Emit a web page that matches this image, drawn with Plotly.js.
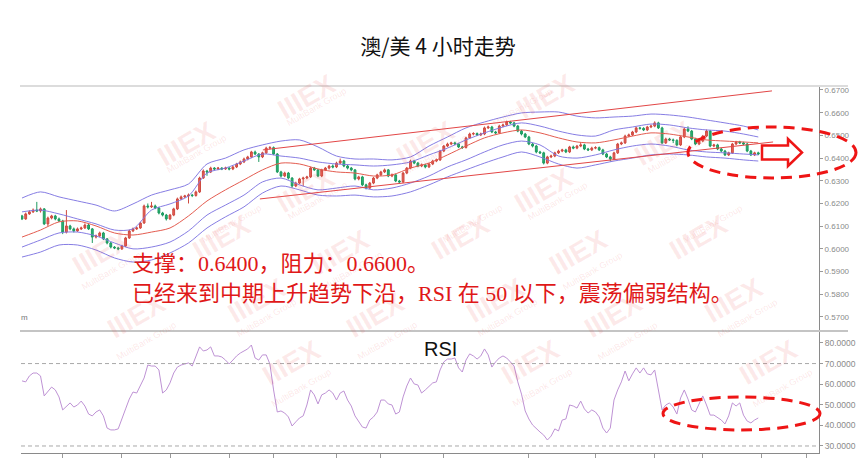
<!DOCTYPE html>
<html><head><meta charset="utf-8">
<script src="https://cdn.plot.ly/plotly-3.0.1.min.js"></script>
<style>html,body{margin:0;padding:0;background:#fff}#chart{width:861px;height:461px}</style>
</head><body><div id="chart"></div>
<script>
// ---------- DATA (4H candles, AUD/USD) ----------
const open = [0.6145,0.6132,0.6154,0.6163,0.6171,0.6167,0.6176,0.6110,0.6136,0.6145,
0.6132,0.6123,0.6074,0.6101,0.6088,0.6079,0.6088,0.6092,0.6105,0.6088,
0.6052,0.6057,0.6070,0.6044,0.6026,0.6008,0.6004,0.6000,0.6013,0.6048,
0.6079,0.6088,0.6092,0.6114,0.6189,0.6185,0.6189,0.6180,0.6158,0.6149,
0.6132,0.6149,0.6176,0.6220,0.6229,0.6233,0.6237,0.6235,0.6251,0.6312,
0.6343,0.6339,0.6356,0.6352,0.6356,0.6352,0.6356,0.6352,0.6361,0.6374,
0.6383,0.6396,0.6405,0.6427,0.6418,0.6405,0.6423,0.6444,0.6446,0.6418,
0.6339,0.6321,0.6334,0.6312,0.6277,0.6290,0.6308,0.6312,0.6317,0.6356,
0.6348,0.6321,0.6348,0.6356,0.6365,0.6361,0.6378,0.6387,0.6365,0.6356,
0.6348,0.6308,0.6317,0.6282,0.6268,0.6290,0.6312,0.6326,0.6339,0.6348,
0.6321,0.6326,0.6299,0.6295,0.6334,0.6356,0.6387,0.6378,0.6365,0.6370,
0.6361,0.6374,0.6387,0.6392,0.6431,0.6453,0.6462,0.6467,0.6462,0.6449,
0.6447,0.6489,0.6506,0.6508,0.6502,0.6506,0.6533,0.6537,0.6515,0.6511,
0.6541,0.6546,0.6559,0.6555,0.6541,0.6519,0.6506,0.6493,0.6462,0.6453,
0.6427,0.6423,0.6378,0.6405,0.6409,0.6423,0.6431,0.6436,0.6427,0.6449,
0.6444,0.6453,0.6458,0.6440,0.6436,0.6444,0.6446,0.6436,0.6418,0.6405,
0.6396,0.6423,0.6462,0.6467,0.6497,0.6502,0.6515,0.6533,0.6531,0.6524,
0.6537,0.6541,0.6555,0.6533,0.6467,0.6484,0.6480,0.6478,0.6458,0.6493,
0.6528,0.6519,0.6484,0.6462,0.6475,0.6497,0.6519,0.6453,0.6458,0.6440,
0.6431,0.6414,0.6423,0.6462,0.6471,0.6467,0.6462,0.6431,0.6414,0.6423];
const high = [0.6150,0.6160,0.6170,0.6178,0.6207,0.6182,0.6180,0.6142,0.6150,0.6150,
0.6138,0.6128,0.6171,0.6106,0.6094,0.6094,0.6098,0.6112,0.6110,0.6092,
0.6063,0.6076,0.6075,0.6048,0.6030,0.6012,0.6009,0.6018,0.6053,0.6085,
0.6094,0.6098,0.6119,0.6195,0.6200,0.6207,0.6195,0.6185,0.6163,0.6154,
0.6154,0.6181,0.6226,0.6235,0.6238,0.6244,0.6242,0.6257,0.6318,0.6350,
0.6348,0.6362,0.6360,0.6361,0.6360,0.6362,0.6360,0.6366,0.6379,0.6389,
0.6402,0.6410,0.6432,0.6433,0.6422,0.6428,0.6450,0.6453,0.6451,0.6422,
0.6344,0.6340,0.6339,0.6316,0.6296,0.6313,0.6318,0.6322,0.6362,0.6361,
0.6352,0.6353,0.6361,0.6370,0.6372,0.6384,0.6398,0.6392,0.6370,0.6361,
0.6352,0.6322,0.6322,0.6287,0.6295,0.6317,0.6331,0.6344,0.6354,0.6352,
0.6332,0.6331,0.6304,0.6339,0.6361,0.6393,0.6392,0.6383,0.6376,0.6375,
0.6379,0.6392,0.6398,0.6436,0.6458,0.6468,0.6472,0.6472,0.6467,0.6454,
0.6494,0.6512,0.6514,0.6513,0.6512,0.6539,0.6543,0.6542,0.6520,0.6547,
0.6552,0.6565,0.6564,0.6560,0.6546,0.6524,0.6511,0.6498,0.6467,0.6458,
0.6432,0.6428,0.6410,0.6415,0.6428,0.6437,0.6441,0.6441,0.6454,0.6455,
0.6458,0.6470,0.6463,0.6445,0.6450,0.6452,0.6451,0.6441,0.6423,0.6410,
0.6428,0.6467,0.6473,0.6503,0.6508,0.6520,0.6539,0.6538,0.6536,0.6542,
0.6547,0.6562,0.6560,0.6538,0.6490,0.6489,0.6486,0.6483,0.6498,0.6535,
0.6540,0.6524,0.6489,0.6480,0.6502,0.6526,0.6524,0.6463,0.6463,0.6445,
0.6436,0.6428,0.6467,0.6476,0.6476,0.6472,0.6467,0.6436,0.6428,0.6428];
const low = [0.6127,0.6128,0.6150,0.6158,0.6162,0.6160,0.6105,0.6100,0.6130,0.6126,
0.6118,0.6065,0.6068,0.6082,0.6072,0.6075,0.6083,0.6088,0.6083,0.6026,
0.6046,0.6052,0.6039,0.6020,0.6002,0.5999,0.5994,0.5995,0.6008,0.6044,
0.6074,0.6083,0.6088,0.6110,0.6178,0.6180,0.6175,0.6152,0.6143,0.6125,
0.6127,0.6144,0.6171,0.6215,0.6224,0.6200,0.6228,0.6230,0.6246,0.6308,
0.6322,0.6334,0.6346,0.6347,0.6347,0.6348,0.6346,0.6347,0.6356,0.6369,
0.6378,0.6390,0.6400,0.6413,0.6383,0.6400,0.6418,0.6438,0.6413,0.6334,
0.6315,0.6316,0.6306,0.6270,0.6272,0.6285,0.6275,0.6307,0.6312,0.6343,
0.6316,0.6316,0.6343,0.6350,0.6355,0.6356,0.6373,0.6360,0.6350,0.6342,
0.6302,0.6302,0.6276,0.6262,0.6263,0.6285,0.6307,0.6321,0.6334,0.6316,
0.6316,0.6294,0.6288,0.6290,0.6329,0.6351,0.6373,0.6360,0.6360,0.6355,
0.6356,0.6369,0.6382,0.6387,0.6426,0.6448,0.6457,0.6457,0.6444,0.6440,
0.6442,0.6484,0.6500,0.6497,0.6497,0.6501,0.6528,0.6510,0.6506,0.6506,
0.6536,0.6541,0.6549,0.6536,0.6514,0.6500,0.6488,0.6457,0.6447,0.6421,
0.6418,0.6372,0.6373,0.6400,0.6404,0.6418,0.6426,0.6422,0.6422,0.6439,
0.6439,0.6448,0.6435,0.6431,0.6431,0.6439,0.6431,0.6413,0.6400,0.6385,
0.6391,0.6418,0.6457,0.6462,0.6492,0.6497,0.6510,0.6525,0.6519,0.6519,
0.6532,0.6536,0.6528,0.6462,0.6462,0.6475,0.6466,0.6452,0.6453,0.6488,
0.6514,0.6479,0.6457,0.6457,0.6470,0.6492,0.6448,0.6448,0.6435,0.6426,
0.6409,0.6409,0.6418,0.6457,0.6462,0.6457,0.6426,0.6409,0.6409,0.6413];
const close = [0.6132,0.6154,0.6163,0.6171,0.6167,0.6176,0.6110,0.6136,0.6145,0.6132,
0.6123,0.6074,0.6101,0.6088,0.6079,0.6088,0.6092,0.6105,0.6088,0.6052,
0.6057,0.6070,0.6044,0.6026,0.6008,0.6004,0.6000,0.6013,0.6048,0.6079,
0.6088,0.6092,0.6114,0.6189,0.6185,0.6189,0.6180,0.6158,0.6149,0.6132,
0.6149,0.6176,0.6220,0.6229,0.6233,0.6237,0.6235,0.6251,0.6312,0.6343,
0.6339,0.6356,0.6352,0.6356,0.6352,0.6356,0.6352,0.6361,0.6374,0.6383,
0.6396,0.6405,0.6427,0.6418,0.6405,0.6423,0.6444,0.6446,0.6418,0.6339,
0.6321,0.6334,0.6312,0.6277,0.6290,0.6308,0.6312,0.6317,0.6356,0.6348,
0.6321,0.6348,0.6356,0.6365,0.6361,0.6378,0.6387,0.6365,0.6356,0.6348,
0.6308,0.6317,0.6282,0.6268,0.6290,0.6312,0.6326,0.6339,0.6348,0.6321,
0.6326,0.6299,0.6295,0.6334,0.6356,0.6387,0.6378,0.6365,0.6370,0.6361,
0.6374,0.6387,0.6392,0.6431,0.6453,0.6462,0.6467,0.6462,0.6449,0.6447,
0.6489,0.6506,0.6508,0.6502,0.6506,0.6533,0.6537,0.6515,0.6511,0.6541,
0.6546,0.6559,0.6555,0.6541,0.6519,0.6506,0.6493,0.6462,0.6453,0.6427,
0.6423,0.6378,0.6405,0.6409,0.6423,0.6431,0.6436,0.6427,0.6449,0.6444,
0.6453,0.6458,0.6440,0.6436,0.6444,0.6446,0.6436,0.6418,0.6405,0.6396,
0.6423,0.6462,0.6467,0.6497,0.6502,0.6515,0.6533,0.6531,0.6524,0.6537,
0.6541,0.6555,0.6533,0.6467,0.6484,0.6480,0.6478,0.6458,0.6493,0.6528,
0.6519,0.6484,0.6462,0.6475,0.6497,0.6519,0.6453,0.6458,0.6440,0.6431,
0.6414,0.6423,0.6462,0.6471,0.6467,0.6462,0.6431,0.6414,0.6423,0.6418];

// Bollinger-style envelopes, read every 5 candles
const bandIdx = [0,5,10,15,20,25,30,35,40,45,50,55,60,65,70,75,80,85,90,95,100,105,110,115,120,125,130,135,140,145,150,155,160,165,170,175,180,185,190,195,199];
const bbOuterUp = [0.6224,0.6251,0.6229,0.6211,0.6193,0.6167,0.6198,0.6237,0.6260,0.6286,0.6374,0.6400,0.6436,0.6458,0.6475,0.6480,0.6449,0.6409,0.6396,0.6396,0.6392,0.6405,0.6453,0.6493,0.6533,0.6559,0.6581,0.6599,0.6603,0.6603,0.6585,0.6577,0.6581,0.6585,0.6594,0.6590,0.6581,0.6568,0.6555,0.6541,0.6524];
const bbInnerUp = [0.6163,0.6171,0.6154,0.6132,0.6110,0.6083,0.6088,0.6171,0.6198,0.6233,0.6334,0.6356,0.6387,0.6418,0.6409,0.6400,0.6383,0.6374,0.6370,0.6365,0.6370,0.6383,0.6414,0.6444,0.6480,0.6511,0.6537,0.6555,0.6541,0.6519,0.6502,0.6497,0.6524,0.6537,0.6550,0.6546,0.6533,0.6524,0.6519,0.6506,0.6493];
const bbMid = [0.6052,0.6083,0.6119,0.6123,0.6101,0.6070,0.6061,0.6074,0.6092,0.6145,0.6211,0.6260,0.6304,0.6348,0.6378,0.6374,0.6352,0.6339,0.6334,0.6321,0.6326,0.6356,0.6378,0.6414,0.6453,0.6489,0.6511,0.6524,0.6511,0.6489,0.6471,0.6467,0.6480,0.6497,0.6511,0.6506,0.6493,0.6480,0.6475,0.6471,0.6467];
const bbInnerLow = [0.6008,0.6039,0.6070,0.6074,0.6057,0.6026,0.6000,0.6008,0.6030,0.6079,0.6149,0.6193,0.6237,0.6295,0.6312,0.6282,0.6260,0.6268,0.6277,0.6260,0.6268,0.6290,0.6321,0.6361,0.6392,0.6427,0.6458,0.6475,0.6458,0.6409,0.6400,0.6414,0.6436,0.6453,0.6462,0.6453,0.6436,0.6427,0.6423,0.6418,0.6414];
const bbOuterLow = [0.5964,0.5986,0.6017,0.6017,0.5995,0.5960,0.5942,0.5951,0.5982,0.6026,0.6092,0.6141,0.6185,0.6246,0.6277,0.6260,0.6237,0.6233,0.6237,0.6229,0.6233,0.6251,0.6282,0.6317,0.6348,0.6378,0.6405,0.6427,0.6405,0.6374,0.6356,0.6370,0.6387,0.6400,0.6414,0.6418,0.6414,0.6405,0.6400,0.6392,0.6387];

// trend channel (candle index, price)
const channelUpIdx = [65.1, 202.7], channelUpPx = [0.6436, 0.6696];
const channelLoIdx = [64.3, 203.0], channelLoPx = [0.6220, 0.6471];

// RSI per candle
const rsi = [61.6,61.1,64.0,65.4,65.4,64.0,54.3,56.7,58.6,57.2,
53.8,47.5,49.4,50.9,48.9,49.9,51.8,49.4,45.5,44.6,
46.5,47.5,44.6,38.7,37.8,37.8,38.3,43.6,48.0,52.8,
56.2,55.7,59.6,63.0,69.3,68.8,68.8,66.9,55.7,57.2,
60.6,65.4,68.3,69.3,69.8,70.3,68.8,73.2,78.1,76.1,
76.6,78.1,73.7,73.7,73.2,71.7,69.8,71.7,73.7,75.1,
76.1,77.1,79.0,72.7,71.7,74.2,74.2,69.8,57.2,46.5,
47.0,46.0,44.1,39.7,41.7,43.6,44.6,49.9,57.2,54.8,
50.4,54.8,55.7,57.2,55.7,52.3,55.7,56.7,52.3,49.4,
44.6,42.1,39.2,38.7,42.6,44.1,46.5,52.3,52.3,50.4,
49.9,45.5,46.5,53.8,59.1,63.0,60.1,59.6,55.7,57.2,
59.1,60.6,61.1,66.9,70.8,72.2,72.2,72.7,67.9,65.9,
71.7,74.7,73.7,72.2,73.7,77.1,74.2,68.3,70.8,72.7,
73.7,72.7,70.8,68.8,61.1,55.2,47.0,43.1,40.2,38.3,
36.8,35.3,32.9,34.8,38.3,37.3,42.6,43.1,49.9,49.4,
48.4,51.8,48.0,46.0,47.5,46.5,44.1,38.7,36.3,38.7,
52.3,57.2,61.1,66.4,61.6,65.0,67.9,65.4,67.9,65.0,
64.5,66.9,57.2,47.5,49.9,50.9,48.9,45.5,53.3,57.2,
52.8,47.5,46.5,50.4,54.3,49.9,45.0,45.0,43.6,42.6,
40.7,44.6,50.9,49.4,50.9,45.0,42.1,41.2,42.6,43.6];

const priceTicks = [0.57,0.58,0.59,0.60,0.61,0.62,0.63,0.64,0.65,0.66,0.67];
const rsiTicks = [30,40,50,60,70,80];
const rsiLevels = [70,30];
const timeTicks = [11,27,40,56,68,85,97,114,137,155,171,184,200,212];

const titleText = '澳/美 4 小时走势';
const note1 = '支撑：0.6400，阻力：0.6600。';
const note2 = '已经来到中期上升趋势下沿，RSI 在 50 以下，震荡偏弱结构。';

// ---------- LAYOUT HELPERS ----------
const L = 21, R = 819, T = 86, B = 453;
const px = v => (v - L) / (R - L);
const py = v => (B - v) / (B - T);
const idx = close.map((_, i) => i);

const purple = 'rgba(128,118,226,0.95)';
const bandLine = (y, color) => ({type:'scatter', mode:'lines', x:bandIdx, y:y, xaxis:'x', yaxis:'y',
  line:{color:color, width:1, shape:'spline', smoothing:0.8}, hoverinfo:'skip'});

const traces = [
  bandLine(bbOuterUp, purple),
  bandLine(bbInnerUp, purple),
  bandLine(bbMid, 'rgb(228,92,80)'),
  bandLine(bbInnerLow, purple),
  bandLine(bbOuterLow, purple),
  {type:'scatter', mode:'lines', x:channelUpIdx, y:channelUpPx, line:{color:'rgb(226,70,70)', width:1}, hoverinfo:'skip'},
  {type:'scatter', mode:'lines', x:channelLoIdx, y:channelLoPx, line:{color:'rgb(226,70,70)', width:1}, hoverinfo:'skip'},
  {type:'candlestick', x:idx, open:open, high:high, low:low, close:close, xaxis:'x', yaxis:'y',
   whiskerwidth:0,
   increasing:{line:{color:'#cf4a40', width:1}, fillcolor:'#e8625a'},
   decreasing:{line:{color:'#1e9a60', width:1}, fillcolor:'#29b576'},
   hoverinfo:'skip'},
  {type:'scatter', mode:'lines', x:idx, y:rsi, xaxis:'x', yaxis:'y2',
   line:{color:'rgb(190,146,212)', width:1}, hoverinfo:'skip'}
];

const shapes = [
  {type:'line', xref:'paper', yref:'paper', x0:px(20), x1:px(848), y0:py(86), y1:py(86), line:{color:'#dcdcdc', width:2}},
  {type:'line', xref:'paper', yref:'paper', x0:px(20), x1:px(848), y0:py(331), y1:py(331), line:{color:'#c4c4c4', width:2}},
  // red dashed ellipses
  {type:'circle', xref:'paper', yref:'paper', x0:px(688), x1:px(856), y0:py(178), y1:py(127),
   line:{color:'#ee1515', width:3, dash:'11px,7px'}},
  {type:'circle', xref:'paper', yref:'paper', x0:px(663), x1:px(820), y0:py(430), y1:py(397),
   line:{color:'#ee1515', width:3, dash:'11px,7px'}},
  // block arrow
  {type:'path', xref:'paper', yref:'paper',
   path:`M${px(762)},${py(145.5)} L${px(788)},${py(145.5)} L${px(788)},${py(139)} L${px(802)},${py(152.5)} L${px(788)},${py(166)} L${px(788)},${py(159.5)} L${px(762)},${py(159.5)} Z`,
   fillcolor:'#ffffff', line:{color:'#ee1515', width:2.5}}
];
rsiLevels.forEach(v => shapes.push({type:'line', xref:'paper', yref:'y2', x0:0, x1:1, y0:v, y1:v,
  line:{color:'#a8a8a8', width:1, dash:'4px,3px'}}));

const annotations = [];
// watermark tiles (only those fully inside the canvas)
for (let r = -2; r <= 7; r++) {
  const yy = 112 + 47 * r;
  if (yy < 40 || yy > 430) continue;
  const off = (((150 + 155 * r) % 275) + 275) % 275;
  for (let xx = off - 275; xx < 920; xx += 275) {
    if (xx < 48 || xx > 805) continue;
    annotations.push({xref:'paper', yref:'paper', x:px(xx), y:py(yy), text:'<b>IIIEX</b>', showarrow:false,
      textangle:-30, font:{family:'Liberation Sans', size:28, color:'rgba(235,80,80,0.12)'}});
    annotations.push({xref:'paper', yref:'paper', x:px(xx + 12), y:py(yy + 18), text:'MultiBank Group', showarrow:false,
      textangle:-30, font:{family:'Liberation Sans', size:9, color:'rgba(235,80,80,0.14)'}});
  }
}
annotations.push(
  {xref:'paper', yref:'paper', x:px(130), y:py(263), xanchor:'left', yanchor:'middle', text:note1, showarrow:false,
   font:{family:'Liberation Serif, Noto Sans CJK SC', size:22, color:'#e01818'}},
  {xref:'paper', yref:'paper', x:px(130), y:py(293), xanchor:'left', yanchor:'middle', text:note2, showarrow:false,
   font:{family:'Liberation Serif, Noto Sans CJK SC', size:22, color:'#e01818'}},
  {xref:'paper', yref:'paper', x:px(422), y:py(349), xanchor:'left', yanchor:'middle', text:'RSI', showarrow:false,
   font:{family:'Liberation Sans', size:20, color:'#111'}},
  {xref:'paper', yref:'paper', x:px(19), y:py(317), xanchor:'left', yanchor:'middle', text:'m', showarrow:false,
   font:{family:'Liberation Sans', size:8, color:'#777'}}
);

const axisCommon = {showgrid:false, zeroline:false, showline:true, linecolor:'#8a8a8a', linewidth:1,
  ticks:'outside', ticklen:3, tickcolor:'#9a9a9a', fixedrange:true};

const layout = {
  width:861, height:461,
  margin:{l:L, r:861 - R, t:T, b:461 - B, pad:0},
  paper_bgcolor:'#ffffff', plot_bgcolor:'#ffffff',
  showlegend:false, hovermode:false,
  title:{text:titleText, xref:'container', yref:'container', x:438/861, xanchor:'center', y:1 - 47/461, yanchor:'middle',
    font:{family:'Noto Sans CJK SC', size:21, color:'#111'}},
  xaxis:Object.assign({}, axisCommon, {range:[-0.27, 215.41], anchor:'y2', tickvals:timeTicks, showticklabels:false,
    ticklen:4, rangeslider:{visible:false}}),
  yaxis:Object.assign({}, axisCommon, {domain:[0.335, 1], range:[0.56423, 0.67176], side:'right', anchor:'x',
    tickvals:priceTicks, tickformat:'.4f', tickfont:{family:'Liberation Sans', size:8, color:'#8a8a8a'}}),
  yaxis2:Object.assign({}, axisCommon, {domain:[0, 0.332], range:[26.6, 85.73], side:'right', anchor:'x',
    tickvals:rsiTicks, tickformat:'.4f', tickfont:{family:'Liberation Sans', size:8.5, color:'#8a8a8a'}}),
  shapes:shapes,
  annotations:annotations
};

Plotly.newPlot('chart', traces, layout, {staticPlot:true, displayModeBar:false});
</script>
</body></html>
